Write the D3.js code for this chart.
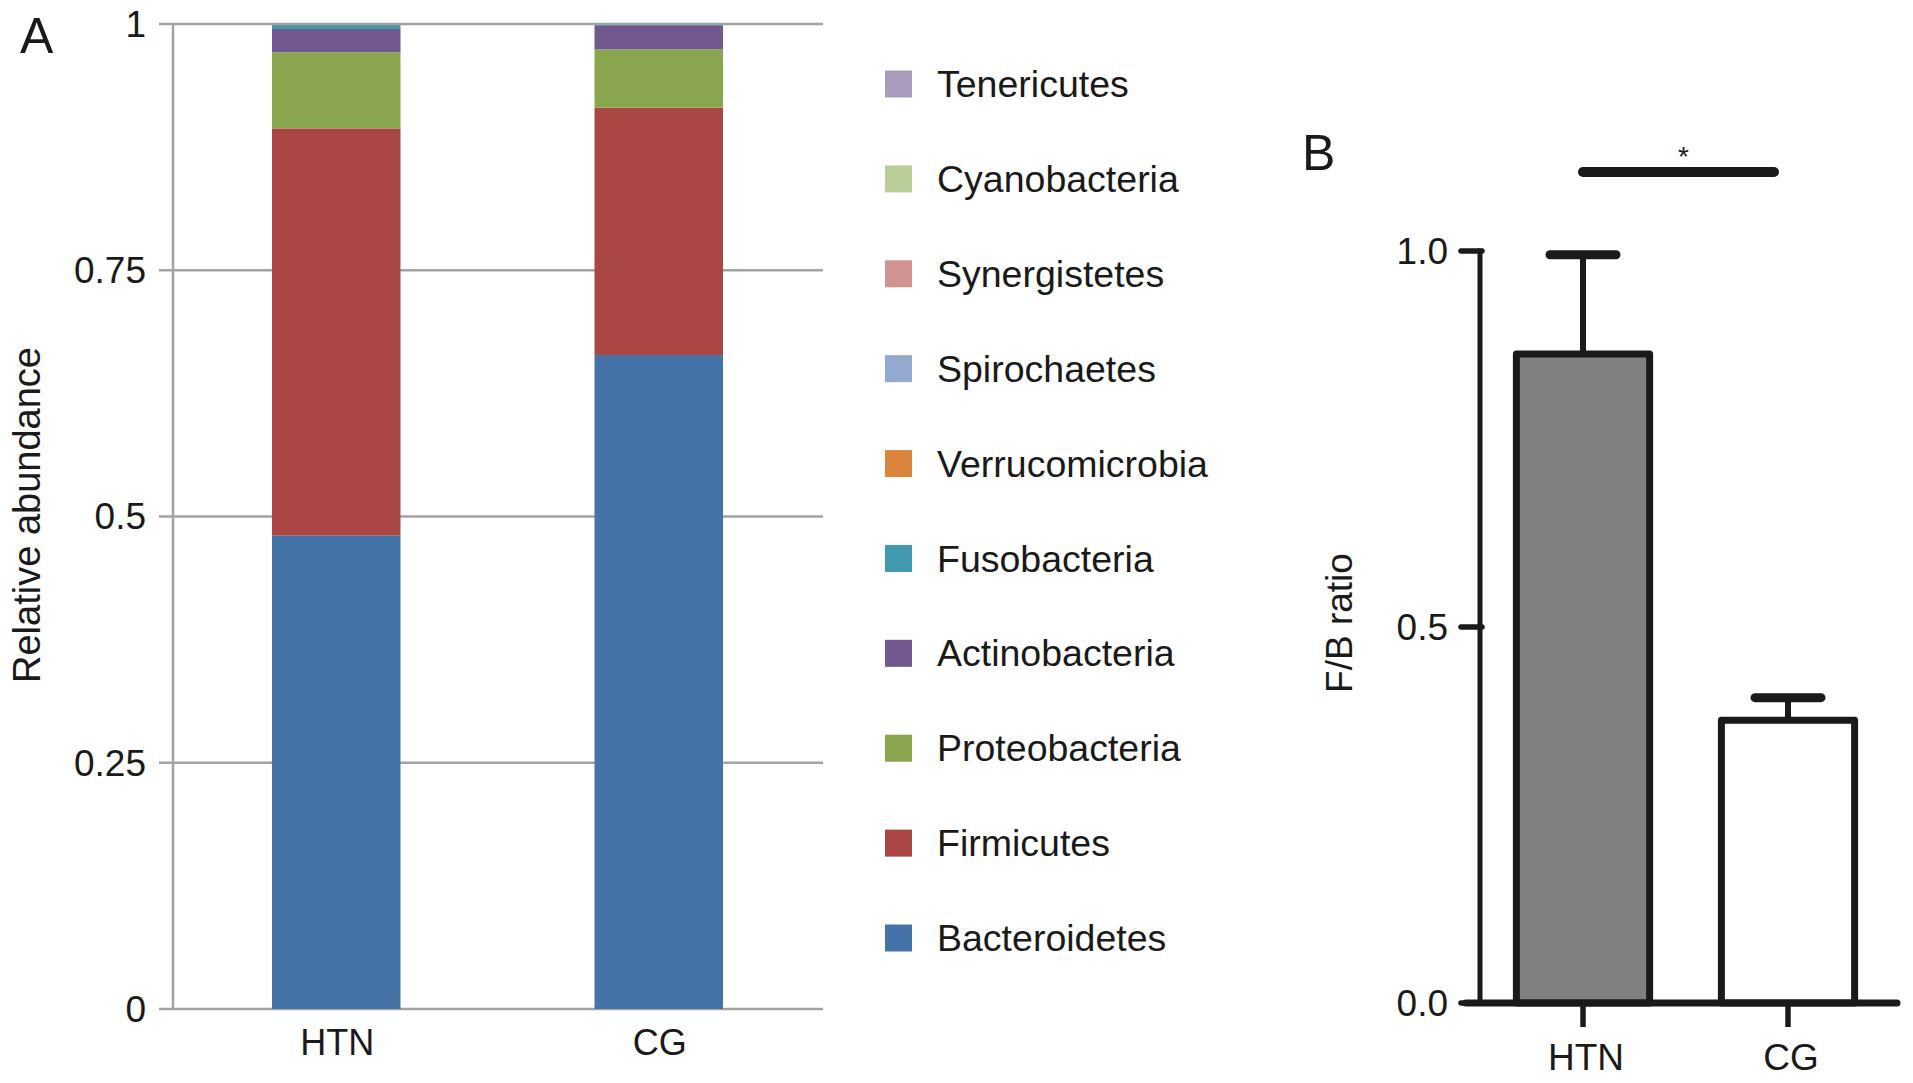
<!DOCTYPE html>
<html>
<head>
<meta charset="utf-8">
<script src="https://cdn.jsdelivr.net/npm/d3@7"></script>
<style>
  body { margin: 0; background: #fff; }
  svg { display: block; font-family: "Liberation Sans", Arial, sans-serif; }
  text { fill: #1a1a1a; }
</style>
</head>
<body>
<svg id="chart" width="1913" height="1083"></svg>
<script>
// ---- data ----
var groups = ["HTN", "CG"];
// stacking order, bottom to top
var phyla = ["Bacteroidetes", "Firmicutes", "Proteobacteria", "Actinobacteria", "Fusobacteria",
             "Verrucomicrobia", "Spirochaetes", "Synergistetes", "Cyanobacteria", "Tenericutes"];
var htnAbundance = [0.4805, 0.4135, 0.0773, 0.0236, 0.0040, 0.0004, 0.0003, 0.0002, 0.0001, 0.0001];
var cgAbundance  = [0.6640, 0.2510, 0.0593, 0.0237, 0.0010, 0.0004, 0.0003, 0.0001, 0.0001, 0.0001];
var phylumColors = ["#4572a7", "#aa4643", "#89a54e", "#71588f", "#4198af",
                    "#db843d", "#93a9cf", "#d19392", "#b9cd96", "#a99bbd"];
var abundanceTicks = [0, 0.25, 0.5, 0.75, 1];

var fbMean = [0.863, 0.376];
var fbSem  = [0.132, 0.030];
var fbFill = ["#808080", "#ffffff"];
var fbTicks = [0, 0.5, 1.0];

var svg = d3.select("#chart");

// ---- panel A: stacked relative abundance ----
var rows = groups.map(function(g, i) {
  var r = { group: g };
  var vals = i == 0 ? htnAbundance : cgAbundance;
  phyla.forEach(function(p, j) { r[p] = vals[j]; });
  return r;
});
var stack = d3.stack().keys(phyla)(rows);

var xA = d3.scaleBand().domain(groups).range([173, 822]).paddingInner(0.6016).paddingOuter(0.307);
var yA = d3.scaleLinear().domain([0, 1]).range([1009, 24]);
var colorA = d3.scaleOrdinal().domain(phyla).range(phylumColors);

var gA = svg.append("g");

// gridlines + ticks
gA.selectAll("line.grid")
  .data(abundanceTicks)
  .enter()
  .append("line")
  .attr("x1", 159)
  .attr("x2", 823)
  .attr("y1", function(d) { return yA(d); })
  .attr("y2", function(d) { return yA(d); })
  .attr("stroke", "#a3a3a3")
  .attr("stroke-width", 2.5);

gA.selectAll("g.layer")
  .data(stack)
  .enter()
  .append("g")
  .attr("fill", function(d) { return colorA(d.key); })
  .selectAll("rect")
  .data(function(d) { return d; })
  .enter()
  .append("rect")
  .attr("x", function(d) { return xA(d.data.group); })
  .attr("width", xA.bandwidth())
  .attr("y", function(d) { return yA(d[1]); })
  .attr("height", function(d) { return yA(d[0]) - yA(d[1]); });

gA.append("line")
  .attr("x1", 173).attr("x2", 173)
  .attr("y1", yA(1)).attr("y2", yA(0))
  .attr("stroke", "#a3a3a3")
  .attr("stroke-width", 2.5);

gA.selectAll("text.ytick")
  .data(abundanceTicks)
  .enter()
  .append("text")
  .attr("x", 146)
  .attr("y", function(d) { return yA(d); })
  .attr("dy", "0.35em")
  .attr("text-anchor", "end")
  .attr("font-size", 37)
  .text(function(d) { return d; });

gA.selectAll("text.xtick")
  .data(groups)
  .enter()
  .append("text")
  .attr("x", function(d) { return xA(d) + xA.bandwidth() / 2 + 1; })
  .attr("y", 1055)
  .attr("text-anchor", "middle")
  .attr("font-size", 36)
  .text(function(d) { return d; });

gA.append("text")
  .attr("transform", "translate(40,515) rotate(-90)")
  .attr("text-anchor", "middle")
  .attr("font-size", 38)
  .text("Relative abundance");

svg.append("text")
  .attr("x", 20).attr("y", 53)
  .attr("font-size", 50)
  .text("A");

// legend (top to bottom: reverse of stacking)
var legendOrder = phyla.slice().reverse();
var yLeg = d3.scalePoint().domain(legendOrder).range([84, 938]);
var leg = svg.append("g").selectAll("g")
  .data(legendOrder)
  .enter()
  .append("g")
  .attr("transform", function(d) { return "translate(885," + yLeg(d) + ")"; });
leg.append("rect")
  .attr("x", 0).attr("y", -13.5)
  .attr("width", 27).attr("height", 27)
  .attr("fill", function(d) { return colorA(d); });
leg.append("text")
  .attr("x", 52)
  .attr("dy", "0.35em")
  .attr("font-size", 37.5)
  .text(function(d) { return d; });

// ---- panel B: F/B ratio ----
var xB = d3.scaleBand().domain(groups).range([1476, 1895]).paddingInner(0.35).paddingOuter(0.197);
var yB = d3.scaleLinear().domain([0, 1]).range([1003, 251]);
var ink = "#1a1a1a";
var gB = svg.append("g");

// error bars
gB.selectAll("line.err")
  .data(groups)
  .enter()
  .append("line")
  .attr("x1", function(d) { return xB(d) + xB.bandwidth() / 2; })
  .attr("x2", function(d) { return xB(d) + xB.bandwidth() / 2; })
  .attr("y1", function(d, i) { return yB(fbMean[i]); })
  .attr("y2", function(d, i) { return yB(fbMean[i] + fbSem[i]); })
  .attr("stroke", ink)
  .attr("stroke-width", 6);

gB.selectAll("line.cap")
  .data(groups)
  .enter()
  .append("line")
  .attr("x1", function(d) { return xB(d) + xB.bandwidth() / 2 - 33; })
  .attr("x2", function(d) { return xB(d) + xB.bandwidth() / 2 + 33; })
  .attr("y1", function(d, i) { return yB(fbMean[i] + fbSem[i]); })
  .attr("y2", function(d, i) { return yB(fbMean[i] + fbSem[i]); })
  .attr("stroke", ink)
  .attr("stroke-width", 9)
  .attr("stroke-linecap", "round");

gB.selectAll("rect")
  .data(groups)
  .enter()
  .append("rect")
  .attr("x", function(d) { return xB(d); })
  .attr("width", xB.bandwidth())
  .attr("y", function(d, i) { return yB(fbMean[i]); })
  .attr("height", function(d, i) { return yB(0) - yB(fbMean[i]); })
  .attr("fill", function(d, i) { return fbFill[i]; })
  .attr("stroke", ink)
  .attr("stroke-width", 7)
  .attr("stroke-linejoin", "round");

// y axis
gB.append("line")
  .attr("x1", 1480).attr("x2", 1480)
  .attr("y1", yB(1) - 2.5).attr("y2", yB(0))
  .attr("stroke", ink).attr("stroke-width", 5);
gB.selectAll("line.ytick")
  .data(fbTicks)
  .enter()
  .append("line")
  .attr("x1", 1461).attr("x2", 1482)
  .attr("y1", function(d) { return yB(d); })
  .attr("y2", function(d) { return yB(d); })
  .attr("stroke", ink).attr("stroke-width", 5.5)
  .attr("stroke-linecap", "round");
gB.selectAll("text.ytick")
  .data(fbTicks)
  .enter()
  .append("text")
  .attr("x", 1448)
  .attr("y", function(d) { return yB(d); })
  .attr("dy", "0.35em")
  .attr("text-anchor", "end")
  .attr("font-size", 37)
  .text(function(d) { return d3.format(".1f")(d); });

// x axis
gB.append("line")
  .attr("x1", 1466).attr("x2", 1897)
  .attr("y1", yB(0)).attr("y2", yB(0))
  .attr("stroke", ink).attr("stroke-width", 7)
  .attr("stroke-linecap", "round");
gB.selectAll("line.xtick")
  .data(groups)
  .enter()
  .append("line")
  .attr("x1", function(d) { return xB(d) + xB.bandwidth() / 2; })
  .attr("x2", function(d) { return xB(d) + xB.bandwidth() / 2; })
  .attr("y1", yB(0)).attr("y2", yB(0) + 24)
  .attr("stroke", ink).attr("stroke-width", 5.5);
gB.selectAll("text.xtick")
  .data(groups)
  .enter()
  .append("text")
  .attr("x", function(d) { return xB(d) + xB.bandwidth() / 2 + 3; })
  .attr("y", 1070)
  .attr("text-anchor", "middle")
  .attr("font-size", 37)
  .text(function(d) { return d; });

gB.append("text")
  .attr("transform", "translate(1352,623) rotate(-90)")
  .attr("text-anchor", "middle")
  .attr("font-size", 37)
  .text("F/B ratio");

// significance
var sigY = 172;
gB.append("line")
  .attr("x1", xB("HTN") + xB.bandwidth() / 2)
  .attr("x2", xB("CG") + xB.bandwidth() / 2 - 14)
  .attr("y1", sigY).attr("y2", sigY)
  .attr("stroke", ink).attr("stroke-width", 10)
  .attr("stroke-linecap", "round");
gB.append("text")
  .attr("x", (xB("HTN") + xB("CG") + xB.bandwidth()) / 2 - 2)
  .attr("y", 166)
  .attr("text-anchor", "middle")
  .attr("font-size", 28)
  .text("*");

svg.append("text")
  .attr("x", 1302).attr("y", 170)
  .attr("font-size", 50)
  .text("B");
</script>
</body>
</html>
